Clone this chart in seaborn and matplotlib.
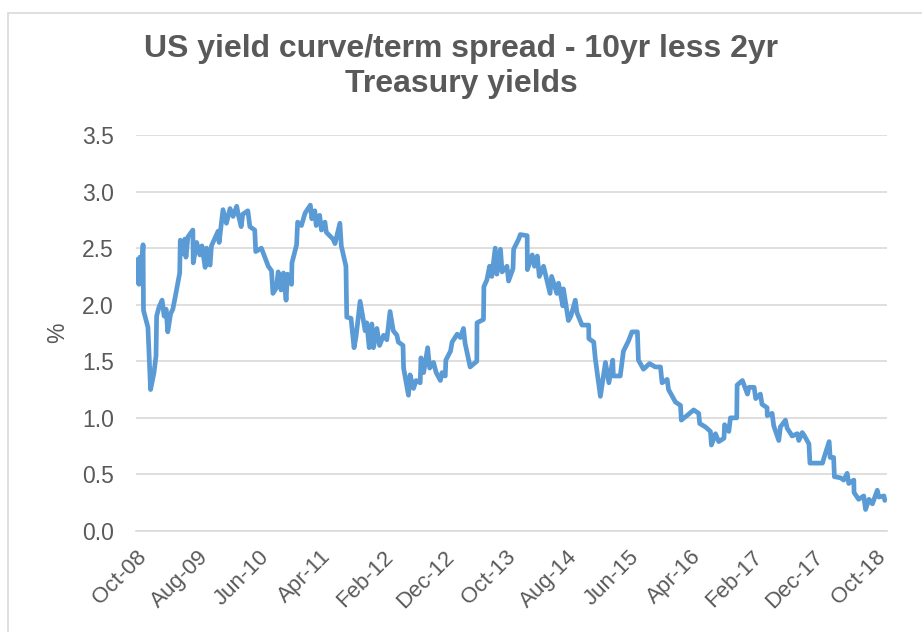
import matplotlib
matplotlib.use('Agg')
import matplotlib.pyplot as plt
import matplotlib.patches as mpatches
import seaborn as sns
import pandas as pd

# 10yr less 2yr US Treasury spread (%)
dates = [
    '2008-10-06', '2008-10-08', '2008-10-16', '2008-10-20', '2008-10-28', '2008-11-05', '2008-11-07', '2008-11-29',
    '2008-12-12', '2008-12-29', '2009-01-08', '2009-01-11', '2009-01-23', '2009-02-07', '2009-02-17', '2009-02-27',
    '2009-03-07', '2009-03-21', '2009-04-01', '2009-04-11', '2009-05-05', '2009-05-08', '2009-05-20', '2009-05-30',
    '2009-06-05', '2009-06-15', '2009-07-09', '2009-07-11', '2009-07-28', '2009-08-13', '2009-08-23', '2009-09-08',
    '2009-09-15', '2009-10-02', '2009-10-09', '2009-11-11', '2009-11-16', '2009-12-05', '2009-12-22', '2010-01-09',
    '2010-01-24', '2010-02-11', '2010-02-18', '2010-03-05', '2010-03-13', '2010-04-07', '2010-04-17', '2010-05-11',
    '2010-05-16', '2010-06-13', '2010-06-30', '2010-07-17', '2010-08-02', '2010-08-09', '2010-08-26', '2010-09-04',
    '2010-09-18', '2010-09-30', '2010-10-13', '2010-10-20', '2010-11-09', '2010-11-11', '2010-12-04', '2010-12-09',
    '2010-12-28', '2011-01-15', '2011-02-10', '2011-02-17', '2011-03-04', '2011-03-11', '2011-03-28', '2011-04-06',
    '2011-04-23', '2011-04-30', '2011-06-02', '2011-06-12', '2011-07-06', '2011-07-13', '2011-08-05', '2011-08-09',
    '2011-08-30', '2011-09-14', '2011-09-24', '2011-10-14', '2011-11-08', '2011-11-16', '2011-11-28', '2011-12-11',
    '2011-12-19', '2012-01-05', '2012-01-18', '2012-02-07', '2012-02-23', '2012-03-10', '2012-03-26', '2012-04-13',
    '2012-04-20', '2012-05-13', '2012-05-16', '2012-06-09', '2012-06-17', '2012-07-04', '2012-07-17', '2012-08-06',
    '2012-08-10', '2012-08-23', '2012-09-12', '2012-09-22', '2012-10-11', '2012-10-24', '2012-11-14', '2012-11-22',
    '2012-12-08', '2012-12-11', '2013-01-03', '2013-01-11', '2013-02-05', '2013-02-21', '2013-03-08', '2013-03-16',
    '2013-04-10', '2013-05-13', '2013-05-14', '2013-06-15', '2013-06-17', '2013-07-02', '2013-07-15', '2013-07-26',
    '2013-08-12', '2013-08-20', '2013-09-07', '2013-09-15', '2013-10-09', '2013-10-17', '2013-11-08', '2013-11-11',
    '2013-12-06', '2013-12-14', '2014-01-17', '2014-01-18', '2014-02-11', '2014-02-22', '2014-03-08', '2014-03-18',
    '2014-04-08', '2014-05-10', '2014-05-18', '2014-06-13', '2014-06-21', '2014-07-12', '2014-07-15', '2014-08-09',
    '2014-08-21', '2014-09-12', '2014-09-20', '2014-10-15', '2014-11-17', '2014-11-18', '2014-12-12', '2014-12-20',
    '2015-01-14', '2015-02-08', '2015-02-25', '2015-03-16', '2015-03-19', '2015-04-22', '2015-05-08', '2015-06-02',
    '2015-06-19', '2015-07-16', '2015-07-21', '2015-08-15', '2015-09-14', '2015-10-12', '2015-11-07', '2015-11-15',
    '2015-12-10', '2015-12-17', '2016-01-20', '2016-02-14', '2016-02-18', '2016-03-17', '2016-04-19', '2016-05-14',
    '2016-05-19', '2016-06-16', '2016-07-11', '2016-07-16', '2016-08-05', '2016-08-21', '2016-09-16', '2016-09-19',
    '2016-10-10', '2016-10-18', '2016-11-18', '2016-11-20', '2016-12-16', '2017-01-10', '2017-01-18', '2017-02-12',
    '2017-02-20', '2017-03-15', '2017-03-23', '2017-04-17', '2017-04-18', '2017-05-12', '2017-05-20', '2017-06-14',
    '2017-06-22', '2017-07-17', '2017-07-25', '2017-08-19', '2017-09-14', '2017-09-21', '2017-10-08', '2017-10-16',
    '2017-11-10', '2017-11-15', '2017-12-13', '2018-01-16', '2018-01-24', '2018-02-18', '2018-02-23', '2018-03-12',
    '2018-03-16', '2018-04-15', '2018-05-01', '2018-05-18', '2018-05-26', '2018-06-20', '2018-06-21', '2018-07-14',
    '2018-08-08', '2018-08-17', '2018-09-03', '2018-09-20', '2018-10-14', '2018-10-22', '2018-11-16', '2018-11-20',
]
spread = [
    2.20, 2.40, 2.18, 2.42, 2.30, 2.53, 1.95, 1.80,
    1.25, 1.40, 1.55, 1.90, 1.98, 2.04, 1.90, 1.96,
    1.76, 1.92, 1.96, 2.05, 2.28, 2.57, 2.45, 2.58,
    2.42, 2.60, 2.66, 2.37, 2.55, 2.44, 2.52, 2.33,
    2.50, 2.35, 2.52, 2.65, 2.55, 2.84, 2.72, 2.85,
    2.78, 2.87, 2.80, 2.69, 2.80, 2.83, 2.69, 2.66,
    2.47, 2.50, 2.42, 2.34, 2.30, 2.10, 2.15, 2.29,
    2.13, 2.28, 2.04, 2.27, 2.18, 2.37, 2.53, 2.73,
    2.70, 2.81, 2.88, 2.76, 2.83, 2.70, 2.79, 2.66,
    2.73, 2.64, 2.58, 2.54, 2.72, 2.52, 2.34, 1.89,
    1.88, 1.62, 1.72, 2.03, 1.77, 1.84, 1.62, 1.83,
    1.62, 1.79, 1.64, 1.73, 1.69, 1.94, 1.77, 1.73,
    1.67, 1.64, 1.44, 1.20, 1.38, 1.26, 1.33, 1.31,
    1.53, 1.40, 1.62, 1.44, 1.49, 1.40, 1.33, 1.40,
    1.37, 1.51, 1.59, 1.67, 1.74, 1.71, 1.79, 1.66,
    1.45, 1.50, 1.84, 1.87, 2.16, 2.22, 2.34, 2.25,
    2.50, 2.27, 2.49, 2.29, 2.34, 2.21, 2.32, 2.49,
    2.58, 2.62, 2.61, 2.31, 2.44, 2.34, 2.43, 2.25,
    2.34, 2.10, 2.25, 2.10, 2.19, 1.99, 2.14, 1.86,
    1.90, 2.04, 1.93, 1.82, 1.82, 1.70, 1.67, 1.52,
    1.19, 1.49, 1.31, 1.51, 1.37, 1.37, 1.59, 1.68,
    1.76, 1.76, 1.51, 1.43, 1.48, 1.45, 1.45, 1.31,
    1.34, 1.25, 1.14, 1.11, 0.98, 1.02, 1.07, 1.04,
    0.95, 0.92, 0.88, 0.76, 0.86, 0.79, 0.82, 0.94,
    0.88, 1.00, 1.00, 1.29, 1.33, 1.21, 1.27, 1.27,
    1.17, 1.21, 1.12, 1.09, 1.02, 1.04, 0.93, 0.80,
    0.92, 0.98, 0.91, 0.84, 0.86, 0.80, 0.87, 0.85,
    0.77, 0.60, 0.60, 0.60, 0.65, 0.79, 0.65, 0.65,
    0.48, 0.47, 0.45, 0.51, 0.42, 0.45, 0.34, 0.28,
    0.31, 0.19, 0.28, 0.24, 0.36, 0.30, 0.31, 0.27,
]
tick_dates = ['2008-10-01', '2009-08-01', '2010-06-01', '2011-04-01', '2012-02-01', '2012-12-01', '2013-10-01',
              '2014-08-01', '2015-06-01', '2016-04-01', '2017-02-01', '2017-12-01', '2018-10-01']
tick_labels = ['Oct-08', 'Aug-09', 'Jun-10', 'Apr-11', 'Feb-12', 'Dec-12', 'Oct-13',
               'Aug-14', 'Jun-15', 'Apr-16', 'Feb-17', 'Dec-17', 'Oct-18']
y_ticks = [0.0, 0.5, 1.0, 1.5, 2.0, 2.5, 3.0, 3.5]

df = pd.DataFrame({'date': pd.to_datetime(dates), 'spread': spread})

sns.set_style('white')
plt.rcParams['font.family'] = ['Liberation Sans', 'DejaVu Sans']

grey = '#595959'
fig = plt.figure(figsize=(9.22, 6.32), dpi=100)
ax = fig.add_axes([136 / 922, 101 / 632, 751 / 922, 396 / 632])

sns.lineplot(data=df, x='date', y='spread', ax=ax, color='#5B9BD5', linewidth=3.4, estimator=None)

ax.set_xlim(pd.Timestamp('2008-10-01'), pd.Timestamp('2018-12-01'))
ax.set_ylim(0, 3.5)
ax.set_yticks(y_ticks)
ax.set_yticklabels([f'{v:.1f}' for v in y_ticks], fontsize=16.5, color=grey)
ax.set_xticks(pd.to_datetime(tick_dates))
ax.set_xticklabels(tick_labels, fontsize=16, color=grey, rotation=45, ha='right', rotation_mode='anchor')
ax.tick_params(axis='y', length=0, pad=16)
ax.tick_params(axis='x', length=5, width=1, color='#D9D9D9', direction='out', pad=6)
ax.grid(axis='y', color='#D9D9D9', linewidth=1.2)
ax.grid(axis='x', visible=False)
for side in ['left', 'right', 'top']:
    ax.spines[side].set_visible(False)
ax.spines['bottom'].set_color('#D9D9D9')
ax.spines['bottom'].set_linewidth(1.2)

ax.set_xlabel('')
ax.set_ylabel('%', fontsize=16.5, color=grey, labelpad=9)

fig.text(0.5, 0.895, 'US yield curve/term spread - 10yr less 2yr\nTreasury yields', ha='center', va='center',
         fontsize=23, fontweight='bold', color=grey, linespacing=1.2)

# chart area border (cropped at right and bottom)
fig.patches.append(mpatches.Rectangle((8 / 922, -0.05), 1.2, (632 - 13) / 632 + 0.05, transform=fig.transFigure,
                                      fill=False, edgecolor='#D9D9D9', linewidth=1.2))

fig.savefig('out.png', dpi=100)
